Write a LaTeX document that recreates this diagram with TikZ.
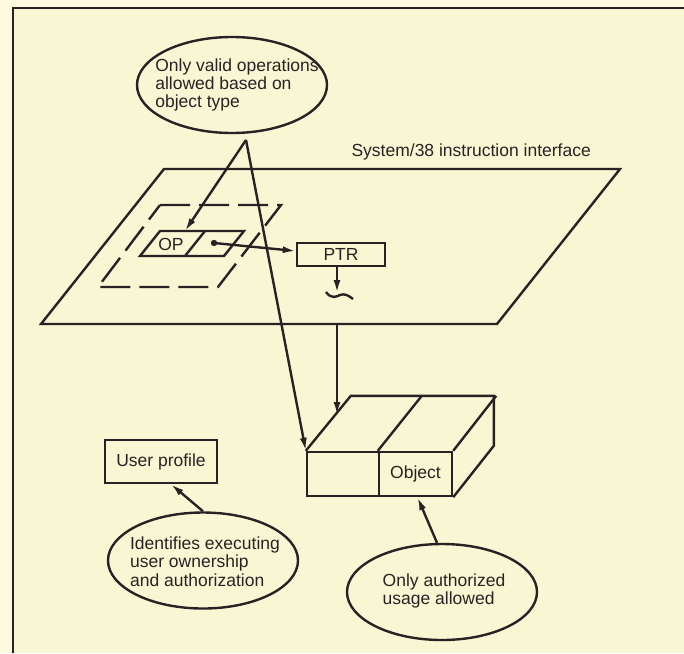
\documentclass[tikz,border=0pt]{standalone}
\usepackage{fontspec}
\setmainfont{Liberation Sans}
\usetikzlibrary{arrows.meta,shapes.geometric}
\definecolor{paper}{RGB}{252,251,224}
\definecolor{panel}{RGB}{249,247,211}
\definecolor{ink}{RGB}{40,34,36}

\begin{document}
\begin{tikzpicture}
[
    x=1pt, y=-1pt,
    every node/.style={font=\fontsize{17.5}{18.3}\selectfont, text=ink},
    line/.style={draw=ink, line width=2.4pt},
    arrow/.style={line, -{Latex[length=13pt,width=7pt]}},
    bubble/.style={ellipse, line, minimum width=190pt, minimum height=96pt, inner sep=0pt},
    bubbletext/.style={align=left, inner sep=0pt},
    box/.style={line, rectangle, inner sep=0pt},
    gap/.style={line, dash pattern=on 30pt off 9pt},
]
\useasboundingbox (0,0) rectangle (684,653);
\fill[paper] (0,0) rectangle (684,653);
\fill[panel] (13,8) rectangle (684,653);
\draw[ink, line width=2.8pt] (13,653) -- (13,8) -- (684,8);

% instruction interface plane
\draw[line] (164,169) -- (620,169) -- (497,324) -- (41,324) -- cycle;
\node[anchor=west] (plane) at (348,152) {System/38 instruction interface};
\draw[gap] (160,205) -- (281,205) -- (218,287) -- (98,287) -- cycle;

% OP / pointer operand
\draw[line] (160,231) -- (244,231) -- (224,256) -- (140,256) -- cycle;
\draw[line] (205,231) -- (185,256);
\node (op) at (171,244) {OP};
\fill[ink] (214,243) circle (3.2pt);
\coordinate (dot) at (214,243);
\node[box, minimum width=88pt, minimum height=23pt] (ptr) at (341,254.5) {PTR};
\draw[arrow] (dot) -- ([yshift=3.5pt]ptr.west);
\coordinate (ptrend) at (337,293);
\draw[arrow] (ptr.south -| ptrend) -- (ptrend);
\draw[line] (326,292) .. controls (331,299) and (336,297) .. (340,295)
    .. controls (345,293) and (349,296) .. (353,299);

% object
\node[box, minimum width=72pt, minimum height=44pt] (objleft) at (343,474) {};
\node[box, minimum width=73pt, minimum height=44pt] (obj) at (415.5,474) {Object};
\draw[line] (objleft.north west) -- ++(45,-55) -- ++(143,0) -- ++(0,50) -- (obj.south east);
\draw[line] (obj.north west) -- ++(44,-55);
\draw[line] (obj.north east) -- ++(43,-55);
\coordinate (planeexit) at (337,324);
\draw[arrow] (planeexit) -- (337,415);

% user profile
\node[box, minimum width=112pt, minimum height=43pt] (user) at (161,461.5) {User profile};

% annotations
\node[bubble] (validell) at (232,85) {};
\node[bubbletext] (validtxt) at (237,85) {Only valid operations\\allowed based on\\object type};
\coordinate (apex) at (246,140);
\draw[arrow] (apex) -- (185,231);
\draw[arrow] (apex) -- (objleft.north west);

\node[bubble] (idell) at (203,560.5) {};
\node[bubbletext] (idtxt) at (205,561.5) {Identifies executing\\user ownership\\and authorization};
\draw[arrow] (idell.north) -- ([xshift=10pt]user.south);

\node[bubble] (authell) at (442,592) {};
\node[bubbletext] (authtxt) at (444,591) {Only authorized\\usage allowed};
\draw[arrow] ([xshift=-5pt]authell.north) -- ([xshift=2pt]obj.south);
\end{tikzpicture}
\end{document}
